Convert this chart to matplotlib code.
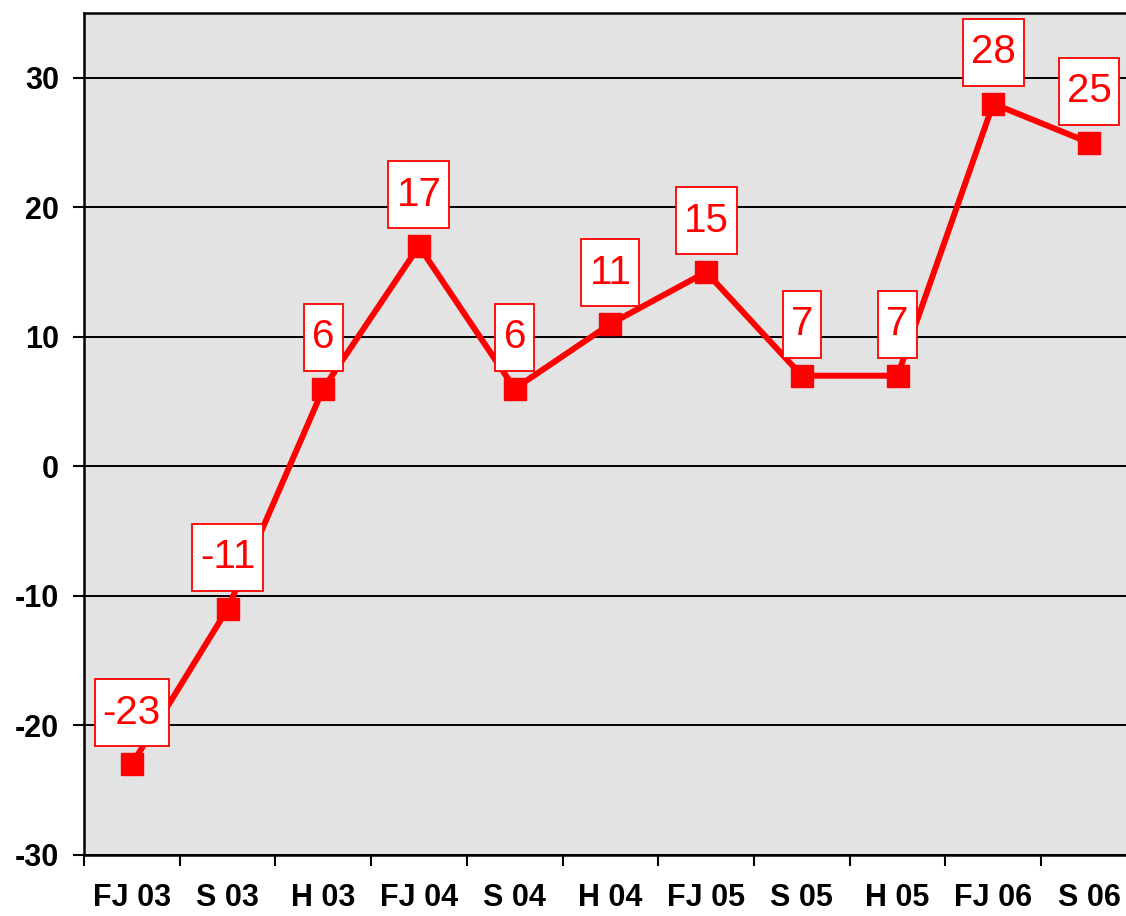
"""Line chart of balance values per survey period with boxed value labels."""

import matplotlib
matplotlib.use("Agg")
import matplotlib.pyplot as plt
from matplotlib.path import Path
from matplotlib.ticker import FixedLocator, NullFormatter

periods = ["FJ 03", "S 03", "H 03", "FJ 04", "S 04", "H 04",
           "FJ 05", "S 05", "H 05", "FJ 06", "S 06"]
values = [-23, -11, 6, 17, 6, 11, 15, 7, 7, 28, 25]
y_ticks = [-30, -20, -10, 0, 10, 20, 30]

RED = "#ff0000"

plt.rcParams["font.family"] = ["Liberation Sans", "DejaVu Sans"]
plt.rcParams["axes.unicode_minus"] = False


def label_box(x0, y0, width, height, mutation_size):
    # taller than wide padding, like the spreadsheet label boxes
    px = 0.2 * mutation_size
    py = 0.36 * mutation_size
    x0, y0 = x0 - px, y0 - py
    x1, y1 = x0 + width + 2 * px, y0 + height + 2 * py
    return Path([(x0, y0), (x1, y0), (x1, y1), (x0, y1), (x0, y0)], closed=True)


fig = plt.figure(figsize=(11.26, 9.16), dpi=100)
ax = fig.add_axes([0.0746, 0.0666, 0.935, 0.9192])
ax.set_facecolor("#e3e3e3")

x = list(range(len(periods)))
ax.plot(x, values, color=RED, linewidth=4.3, marker="s", markersize=16.5,
        markerfacecolor=RED, markeredgecolor=RED, zorder=3)

for xi, val in zip(x, values):
    ax.annotate(str(val), (xi, val), xytext=(0, 37), textcoords="offset points",
                ha="center", va="center", fontsize=29, color=RED, zorder=5,
                bbox=dict(boxstyle=label_box, facecolor="white",
                          edgecolor=RED, linewidth=1.3))

ax.set_xlim(-0.5, len(periods) - 0.5)
ax.set_ylim(-30, 35)

ax.yaxis.set_major_locator(FixedLocator(y_ticks))
ax.grid(axis="y", color="black", linewidth=1.4, zorder=1)
ax.set_axisbelow(True)

# tick marks sit between categories, labels at the centres
ax.xaxis.set_major_locator(FixedLocator([i - 0.5 for i in range(len(periods) + 1)]))
ax.xaxis.set_major_formatter(NullFormatter())
ax.xaxis.set_minor_locator(FixedLocator(x))
ax.set_xticklabels(periods, minor=True)
ax.tick_params(axis="x", which="major", length=8, width=1.5, direction="out")
ax.tick_params(axis="x", which="minor", length=0, pad=20, labelsize=22)
ax.tick_params(axis="y", length=8, width=1.5, direction="out", pad=10, labelsize=22)
for lbl in ax.get_xticklabels(minor=True) + ax.get_yticklabels():
    lbl.set_fontweight("bold")

for side in ("left", "bottom", "top"):
    ax.spines[side].set_linewidth(1.8)
    ax.spines[side].set_color("black")
ax.spines["right"].set_visible(False)

fig.savefig("out.png", dpi=100)
